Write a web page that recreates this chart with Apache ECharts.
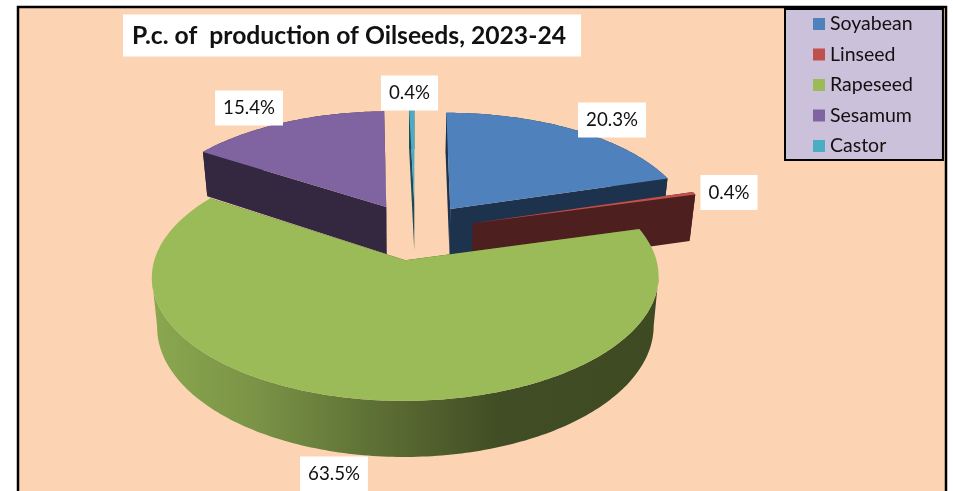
<!DOCTYPE html>
<html>
<head>
<meta charset="utf-8">
<style>html,body{margin:0;padding:0;background:#fff}#c{width:953px;height:491px}</style>
<script src="https://cdn.jsdelivr.net/npm/echarts@6/dist/echarts.min.js"></script>
</head>
<body>
<div id="c"></div>
<script>
// ---- data ----
var categories = ['Soyabean', 'Linseed', 'Rapeseed', 'Sesamum', 'Castor'];
var shares = [20.3, 0.4, 63.5, 15.4, 0.4];
var titleText = 'P.c. of  production of Oilseeds, 2023-24';

// ---- styles ----
var topColors = ['#4f81bd', '#c0504d', '#9bbb59', '#8064a2', '#4bacc6'];
var sideColors = ['#1d324d', '#4d1f1f', '#3f4a22', '#33283f', '#1c4a57'];
var paintOrder = [3, 0, 4, 1, 2];          // back to front, by category index
var labelCentres = [[612, 120], [729, 192.5], [334, 474], [249, 108], [409.5, 93]];
var FONT = 'Lato, "Noto Sans", sans-serif';

// ---- projection of the tilted disc ----
var CX = 415, CY = 231.2, SX = 243, SY = 114, PERSP = 0.13, DEPTH = 47, FLOOR_SCALE = 0.98, EXPLODE = 0.25, FACE_BLEED = 1.5;
function project(u, v, lower) {
  var w = 1 + PERSP * v;
  var x = SX * u / w, y = CY - SY * v / w;
  if (lower) { x *= FLOOR_SCALE; y += DEPTH / w; }
  return [CX + x, y];
}

var total = shares.reduce(function (a, b) { return a + b; }, 0);

function slicePieces(index, value) {
  var before = 0;
  for (var i = 0; i < index; i++) before += shares[i];
  var a0 = before / total * Math.PI * 2;
  var a1 = (before + value) / total * Math.PI * 2;
  var mid = (a0 + a1) / 2;
  var u0 = EXPLODE * Math.sin(mid), v0 = EXPLODE * Math.cos(mid);
  var top = [], floor = [];
  var steps = Math.max(2, Math.ceil((a1 - a0) / (Math.PI / 180)));
  for (var s = 0; s <= steps; s++) {
    var a = a0 + (a1 - a0) * s / steps;
    var u = u0 + Math.sin(a), v = v0 + Math.cos(a);
    top.push(project(u, v, false));
    floor.push(project(u, v, true));
  }
  return { apex: project(u0, v0, false), apexLow: project(u0, v0, true), top: top, floor: floor };
}

function sideFill(index) {
  if (categories[index] !== 'Rapeseed') return sideColors[index];
  return new echarts.graphic.LinearGradient(155, 0, 660, 0, [
    { offset: 0, color: '#8aa74f' },
    { offset: 0.2, color: '#7a9346' },
    { offset: 0.42, color: '#5f7236' },
    { offset: 0.68, color: '#414d24' },
    { offset: 1, color: '#3e4a22' }
  ], true);
}

function bleed(pt) { return [pt[0], pt[1] + FACE_BLEED]; }

function makeRender(index) {
  return function (params, api) {
    var value = api.value(0);
    var p = slicePieces(index, value);
    var n = p.top.length - 1;
    // only the arc between the horizontal extremes of the rim forms the wall
    var iMax = 0, iMin = 0;
    p.top.forEach(function (pt, k) {
      if (pt[0] > p.top[iMax][0]) iMax = k;
      if (pt[0] < p.top[iMin][0]) iMin = k;
    });
    var lo = Math.min(iMax, iMin), hi = Math.max(iMax, iMin);
    var wall = p.top.slice(lo, hi + 1).concat(p.floor.slice(lo, hi + 1).reverse());
    var faceA = [p.apex, p.top[0], bleed(p.floor[0]), bleed(p.apexLow)];
    var faceB = [p.apex, p.top[n], bleed(p.floor[n]), bleed(p.apexLow)];
    var lid = [p.apex].concat(p.top);
    var c = labelCentres[index];
    return {
      type: 'group',
      children: [
        { type: 'polygon', shape: { points: wall }, style: { fill: sideFill(index) } },
        { type: 'polygon', shape: { points: faceB }, style: { fill: sideColors[index] } },
        { type: 'polygon', shape: { points: faceA }, style: { fill: sideColors[index] } },
        { type: 'polygon', shape: { points: lid }, style: { fill: topColors[index] } },
        { type: 'text', style: {
            x: c[0], y: c[1], text: value.toFixed(1) + '%', align: 'center', verticalAlign: 'middle',
            font: '18.7px ' + FONT, fill: '#111', backgroundColor: '#fff', padding: [8, 8, 8, 8]
        } }
      ]
    };
  };
}

var series = categories.map(function (name, i) {
  return {
    type: 'custom',
    name: name,
    coordinateSystem: 'none',
    z: 2 + paintOrder.indexOf(i),
    silent: true,
    animation: false,
    itemStyle: { color: topColors[i] },
    data: [[shares[i]]],
    renderItem: makeRender(i)
  };
});

var chart = echarts.init(document.getElementById('c'), null, { renderer: 'canvas', width: 953, height: 491 });
chart.setOption({
  animation: false,
  backgroundColor: '#ffffff',
  graphic: [{
    type: 'rect', z: 0, silent: true,
    shape: { x: 18, y: 7, width: 928, height: 520 },
    style: { fill: '#fdd4b3', stroke: '#000', lineWidth: 2.5 }
  }],
  title: {
    text: titleText, left: 123, top: 15, z: 20,
    backgroundColor: '#fff', padding: [9, 15, 8, 9],
    textStyle: { fontFamily: FONT, fontWeight: 'bold', fontSize: 24.7, color: '#111', lineHeight: 24 }
  },
  legend: {
    orient: 'vertical', left: 785, top: 9, z: 20,
    data: categories, icon: 'rect', selectedMode: false,
    itemWidth: 12, itemHeight: 12, itemGap: 10.5,
    padding: [5, 30, 4, 28],
    backgroundColor: '#ccc1da', borderColor: '#000', borderWidth: 2,
    textStyle: { fontFamily: FONT, fontSize: 19.5, lineHeight: 20, color: '#111' }
  },
  series: series
});
</script>
</body>
</html>
